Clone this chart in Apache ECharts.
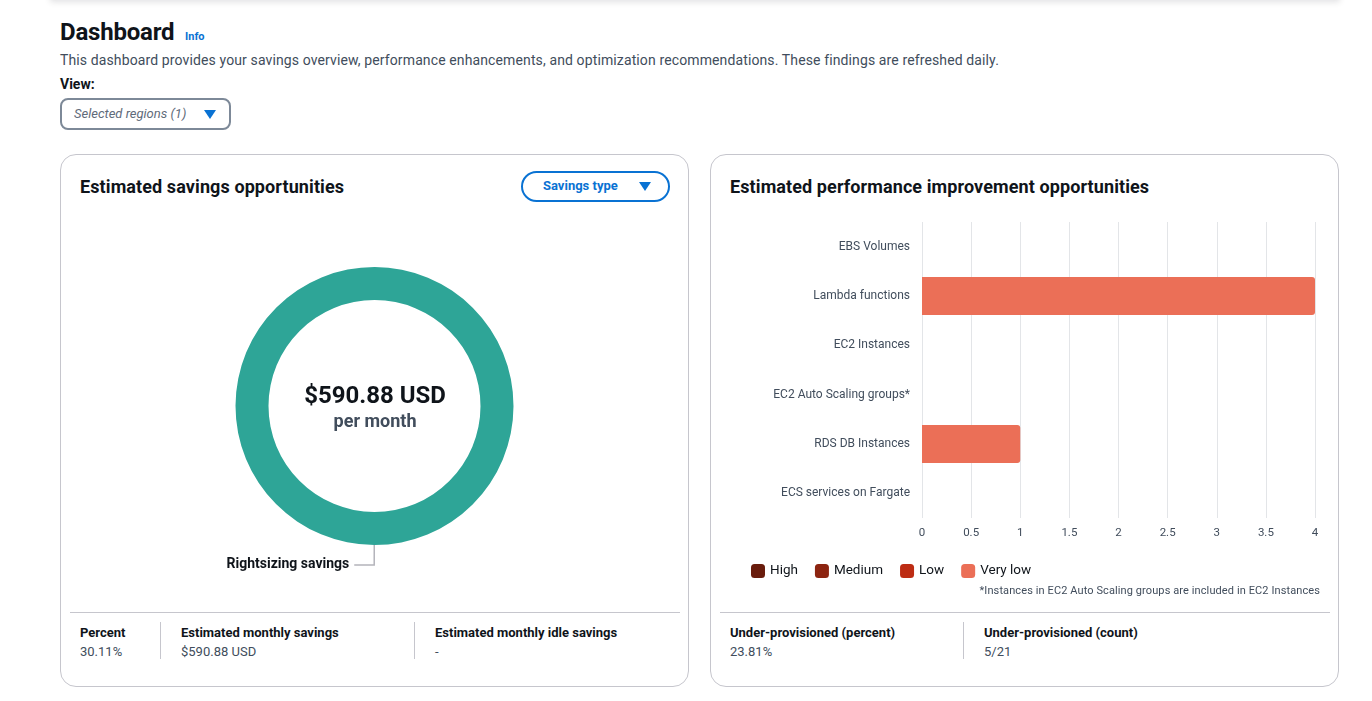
<!DOCTYPE html>
<html>
<head>
<meta charset="utf-8">
<script src="https://cdn.jsdelivr.net/npm/echarts@6/dist/echarts.min.js"></script>
<style>
  body { margin: 0; background: #fff; font-family: Roboto, "Noto Sans", sans-serif; color: #0f141a; }
  #page { position: relative; width: 1372px; height: 701px; overflow: hidden; }
  .abs { position: absolute; white-space: nowrap; }
  .topbar { left: 50px; top: -12px; width: 1290px; height: 12px; box-shadow: 0 2px 6px rgba(0,7,22,0.12); background: #fff; }
  .h1 { left: 60px; top: 18px; font-size: 24px; font-weight: 700; letter-spacing: -0.2px; }
  .info { left: 185px; top: 30px; font-size: 11px; font-weight: 700; color: #0972d3; }
  .desc { left: 60px; top: 52px; font-size: 14px; color: #414d5c; letter-spacing: 0.12px; }
  .view { left: 60px; top: 76px; font-size: 14px; font-weight: 700; }
  .select { left: 60px; top: 98px; width: 167px; height: 28px; border: 2px solid #7d8998; border-radius: 8px; }
  .select span { position: absolute; left: 12px; top: 6px; font-size: 13px; font-style: italic; color: #5f6b7a; }
  .tri { position: absolute; width: 0; height: 0; border-left: 6px solid transparent; border-right: 6px solid transparent; border-top: 9px solid #0972d3; }
  .card { border: 1px solid #c6c6cd; border-radius: 16px; width: 627px; height: 531px; top: 154px; }
  .ctitle { font-size: 18px; font-weight: 700; top: 176px; letter-spacing: 0.1px; }
  .btn { left: 521px; top: 171px; width: 145px; height: 27px; border: 2px solid #0972d3; border-radius: 20px; }
  .btn span { position: absolute; left: 20px; top: 5px; font-size: 13px; font-weight: 700; color: #0972d3; }
  .hr { height: 1px; background: #c6c6cd; top: 612px; }
  .vr { width: 1px; background: #c6c6cd; top: 622px; height: 37px; }
  .lab { font-size: 13px; font-weight: 700; top: 625px; }
  .val { font-size: 13px; color: #414d5c; top: 644px; }
  .note { font-size: 11px; color: #414d5c; top: 584px; right: 52px; letter-spacing: 0.1px; }
  .chart { position: absolute; top: 210px; width: 630px; height: 390px; }
</style>
</head>
<body>
<div id="page">
  <div class="abs topbar"></div>
  <div class="abs h1">Dashboard</div>
  <div class="abs info">Info</div>
  <div class="abs desc">This dashboard provides your savings overview, performance enhancements, and optimization recommendations. These findings are refreshed daily.</div>
  <div class="abs view">View:</div>
  <div class="abs select"><span>Selected regions (1)</span><div class="tri" style="left:142px;top:10px;"></div></div>

  <div class="abs card" style="left:60px;"></div>
  <div class="abs card" style="left:710px;"></div>

  <div class="abs ctitle" style="left:80px;">Estimated savings opportunities</div>
  <div class="abs btn"><span>Savings type</span><div class="tri" style="left:116px;top:9px;"></div></div>
  <div class="abs ctitle" style="left:730px;">Estimated performance improvement opportunities</div>

  <div id="pie" class="chart" style="left:60px;"></div>
  <div id="bar" class="chart" style="left:710px;"></div>

  <div class="abs note">*Instances in EC2 Auto Scaling groups are included in EC2 Instances</div>

  <div class="abs hr" style="left:70px;width:610px;"></div>
  <div class="abs vr" style="left:160px;"></div>
  <div class="abs vr" style="left:414px;"></div>
  <div class="abs lab" style="left:80px;">Percent</div>
  <div class="abs val" style="left:80px;">30.11%</div>
  <div class="abs lab" style="left:181px;">Estimated monthly savings</div>
  <div class="abs val" style="left:181px;">$590.88 USD</div>
  <div class="abs lab" style="left:435px;">Estimated monthly idle savings</div>
  <div class="abs val" style="left:435px;">-</div>

  <div class="abs hr" style="left:720px;width:610px;"></div>
  <div class="abs vr" style="left:963px;"></div>
  <div class="abs lab" style="left:730px;">Under-provisioned (percent)</div>
  <div class="abs val" style="left:730px;">23.81%</div>
  <div class="abs lab" style="left:984px;">Under-provisioned (count)</div>
  <div class="abs val" style="left:984px;">5/21</div>
</div>
<script>
// savings donut
var savingsNames = ['Rightsizing savings'];
var savingsValues = [590.88];
var savingsTotal = '$590.88 USD';

// performance bars
var resourceTypes = ['EBS Volumes', 'Lambda functions', 'EC2 Instances', 'EC2 Auto Scaling groups*', 'RDS DB Instances', 'ECS services on Fargate'];
var severityNames = ['High', 'Medium', 'Low', 'Very low'];
var severityColors = ['#691c0c', '#8c2410', '#bd2c13', '#eb6f57'];
var highCounts = [0, 0, 0, 0, 0, 0];
var mediumCounts = [0, 0, 0, 0, 0, 0];
var lowCounts = [0, 0, 0, 0, 0, 0];
var veryLowCounts = [0, 4, 0, 0, 1, 0];

var fontFam = 'Roboto, "Noto Sans", sans-serif';

var pieChart = echarts.init(document.getElementById('pie'));
pieChart.setOption({
    animation: false,
    title: {
        text: savingsTotal,
        subtext: 'per month',
        left: 'center',
        top: 170,
        itemGap: 4,
        textStyle: { fontFamily: fontFam, fontSize: 24, fontWeight: 'bold', color: '#0f141a' },
        subtextStyle: { fontFamily: fontFam, fontSize: 18, fontWeight: 'bold', color: '#414d5c' }
    },
    series: [{
        type: 'pie',
        center: [314.5, 196],
        radius: [106, 139],
        startAngle: 89.9,
        silent: true,
        color: ['#2ea597'],
        label: {
            show: true,
            position: 'outside',
            fontFamily: fontFam,
            fontSize: 14,
            fontWeight: 'bold',
            color: '#0f141a'
        },
        labelLine: {
            show: true,
            length: 20,
            length2: 20,
            lineStyle: { color: '#b4b4bb', width: 1.5 }
        },
        data: savingsNames.map(function (n, i) { return { name: n, value: savingsValues[i] }; })
    }]
});

var stackData = [highCounts, mediumCounts, lowCounts, veryLowCounts];
var barSeries = [];
for (var i = 0; i < severityNames.length; i++) {
    barSeries.push({
        name: severityNames[i],
        type: 'bar',
        stack: 'total',
        barWidth: 38,
        itemStyle: { color: severityColors[i], borderRadius: i == 3 ? [0, 3, 3, 0] : 0 },
        data: stackData[i]
    });
}

var barChart = echarts.init(document.getElementById('bar'));
barChart.setOption({
    animation: false,
    grid: { left: 212, right: 25, top: 12, bottom: 82, containLabel: false },
    legend: {
        data: severityNames,
        left: 36,
        top: 349,
        icon: 'roundRect',
        itemWidth: 14,
        itemHeight: 14,
        itemGap: 17,
        textStyle: { fontFamily: fontFam, fontSize: 13.5, color: '#0f141a' }
    },
    xAxis: {
        type: 'value',
        min: 0,
        max: 4,
        interval: 0.5,
        axisLine: { show: false },
        axisTick: { show: false },
        axisLabel: { fontFamily: fontFam, fontSize: 11.5, color: '#414d5c', margin: 9 },
        splitLine: { show: true, lineStyle: { color: '#e3e5e8', width: 1 } }
    },
    yAxis: {
        type: 'category',
        inverse: true,
        data: resourceTypes,
        axisLine: { show: false },
        axisTick: { show: false },
        axisLabel: { fontFamily: fontFam, fontSize: 12, color: '#414d5c', margin: 12 }
    },
    series: barSeries
});
</script>
</body>
</html>
